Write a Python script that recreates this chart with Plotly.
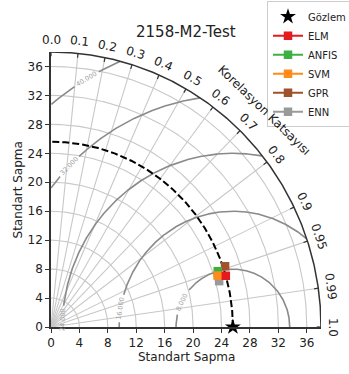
import numpy as np
import plotly.graph_objects as go

# ---- data -------------------------------------------------------------
title_text = "2158-M2-Test"
ref_name = "Gözlem"
ref_std = 25.6

models = ["ELM", "ANFIS", "SVM", "GPR", "ENN"]
model_std = [25.6, 24.7, 24.5, 25.9, 24.5]
model_corr = [0.961, 0.950, 0.957, 0.946, 0.966]
model_colors = ["#e41a1c", "#3cb043", "#ff8c1a", "#a0522d", "#9a9a9a"]
draw_order = ["GPR", "ENN", "ANFIS", "SVM", "ELM"]

corr_ticks = [0.0, 0.1, 0.2, 0.3, 0.4, 0.5, 0.6, 0.7, 0.8, 0.9, 0.95, 0.99, 1.0]
corr_labels = ["0.0", "0.1", "0.2", "0.3", "0.4", "0.5", "0.6", "0.7", "0.8", "0.9", "0.95", "0.99", "1.0"]
std_ticks = [0, 4, 8, 12, 16, 20, 24, 28, 32, 36]
std_max = 38

rms_levels = [8, 16, 24, 32, 40]
rms_labels = ["8.000", "16.000", "24.000", "32.000", "40.000"]
rms_label_angle = [154, 170.7, 177.6, 136, 121]  # degrees around the reference point

FONT = "DejaVu Sans"
TXT = "#222222"

fig = go.Figure()


def polar_xy(r, theta):
    return r * np.cos(theta), r * np.sin(theta)


def paper(x, y):
    # axes span [0, std_max] over the full plotting domain
    return x / std_max, y / std_max


def label(x, y, text, size, color=TXT, angle=0):
    return dict(x=x, y=y, xref="paper", yref="paper", text=text, showarrow=False,
                xanchor="center", yanchor="middle", textangle=angle,
                font=dict(family=FONT, size=size, color=color))


# std grid arcs
for s in std_ticks[1:]:
    th = np.linspace(0, np.pi / 2, 200)
    x, y = polar_xy(s, th)
    fig.add_trace(go.Scatter(x=x, y=y, mode="lines", line=dict(color="#c8c8c8", width=1.1),
                             hoverinfo="skip", showlegend=False))

# correlation grid rays
for c in corr_ticks[1:-1]:
    th = np.arccos(c)
    fig.add_trace(go.Scatter(x=[0, std_max * np.cos(th)], y=[0, std_max * np.sin(th)], mode="lines",
                             line=dict(color="#c8c8c8", width=1.1), hoverinfo="skip", showlegend=False))

# centred RMS difference contours, clipped to the quarter disc, with gaps for labels
annotations = []
for lev, lab, ang in zip(rms_levels, rms_labels, rms_label_angle):
    phi = np.linspace(0, np.pi, 1200)
    x = ref_std + lev * np.cos(phi)
    y = lev * np.sin(phi)
    keep = (x >= 0) & (x ** 2 + y ** 2 <= std_max ** 2)
    gap = np.abs(phi - np.radians(ang)) < (1.9 / lev)
    x = np.where(keep & ~gap, x, np.nan)
    y = np.where(keep & ~gap, y, np.nan)
    fig.add_trace(go.Scatter(x=x, y=y, mode="lines", line=dict(color="#8a8a8a", width=1.6),
                             hoverinfo="skip", showlegend=False))
    lx, ly = paper(ref_std + lev * np.cos(np.radians(ang)), lev * np.sin(np.radians(ang)))
    annotations.append(label(lx, ly, lab, 6.5, "#a0a0a0", 90 - ang))

# reference std arc
th = np.linspace(0, np.pi / 2, 300)
x, y = polar_xy(ref_std, th)
fig.add_trace(go.Scatter(x=x, y=y, mode="lines", line=dict(color="black", width=2, dash="7px,3px"),
                         hoverinfo="skip", showlegend=False))

# outer boundary arc
x, y = polar_xy(std_max, th)
fig.add_trace(go.Scatter(x=x, y=y, mode="lines", line=dict(color="#333333", width=1.5),
                         hoverinfo="skip", showlegend=False, cliponaxis=False))

# correlation ticks and labels on the outer arc
tx, ty = [], []
for c, lab in zip(corr_ticks, corr_labels):
    t = np.arccos(c)
    tx += [std_max * np.cos(t), (std_max - 0.6) * np.cos(t), None]
    ty += [std_max * np.sin(t), (std_max - 0.6) * np.sin(t), None]
    lx, ly = paper(39.7 * np.cos(t), 39.7 * np.sin(t))
    annotations.append(label(lx, ly, lab, 12, TXT, 90 - np.degrees(t)))
fig.add_trace(go.Scatter(x=tx, y=ty, mode="lines", line=dict(color="#333333", width=1.2),
                         hoverinfo="skip", showlegend=False))

# reference point
fig.add_trace(go.Scatter(x=[ref_std], y=[0], mode="markers", name=ref_name, cliponaxis=False,
                         marker=dict(symbol="star", size=12, color="black"), legendrank=1))

# model points
for name in draw_order:
    i = models.index(name)
    t = np.arccos(model_corr[i])
    fig.add_trace(go.Scatter(x=[model_std[i] * np.cos(t)], y=[model_std[i] * np.sin(t)],
                             mode="lines+markers", name=name, cliponaxis=False,
                             line=dict(color=model_colors[i], width=2),
                             marker=dict(symbol="square", size=8.5, color=model_colors[i]),
                             legendrank=2 + i))

# titles
kx, ky = paper(42.4 * np.cos(np.radians(45)), 42.4 * np.sin(np.radians(45)))
annotations += [
    label(0.5, paper(0, 40.7)[1], title_text, 15),
    label(paper(-4.65, 0)[0], 0.5, "Standart Sapma", 12, TXT, -90),
    label(0.5, paper(0, -4.15)[1], "Standart Sapma", 12),
    label(kx, ky, "Korelasyon Katsayısı", 12, TXT, 44),
]

axis_common = dict(range=[0, std_max], tickmode="array", tickvals=std_ticks,
                   ticktext=[str(v) for v in std_ticks], ticks="outside", ticklen=4,
                   tickcolor="#333333", showgrid=False, zeroline=False, showline=True,
                   linecolor="#333333", linewidth=1.5,
                   tickfont=dict(family=FONT, size=12, color=TXT))

fig.update_layout(
    width=349, height=374,
    margin=dict(l=51, r=28, t=52, b=47, autoexpand=False),
    paper_bgcolor="white", plot_bgcolor="white",
    xaxis=axis_common, yaxis=axis_common,
    annotations=annotations,
    showlegend=True,
    legend=dict(x=0.80, y=1.185, xanchor="left", yanchor="top", bgcolor="white",
                bordercolor="#cccccc", borderwidth=1, font=dict(family=FONT, size=10, color=TXT),
                itemwidth=30, tracegroupgap=0),
    font=dict(family=FONT, color=TXT),
)

fig.write_html("out.html")
